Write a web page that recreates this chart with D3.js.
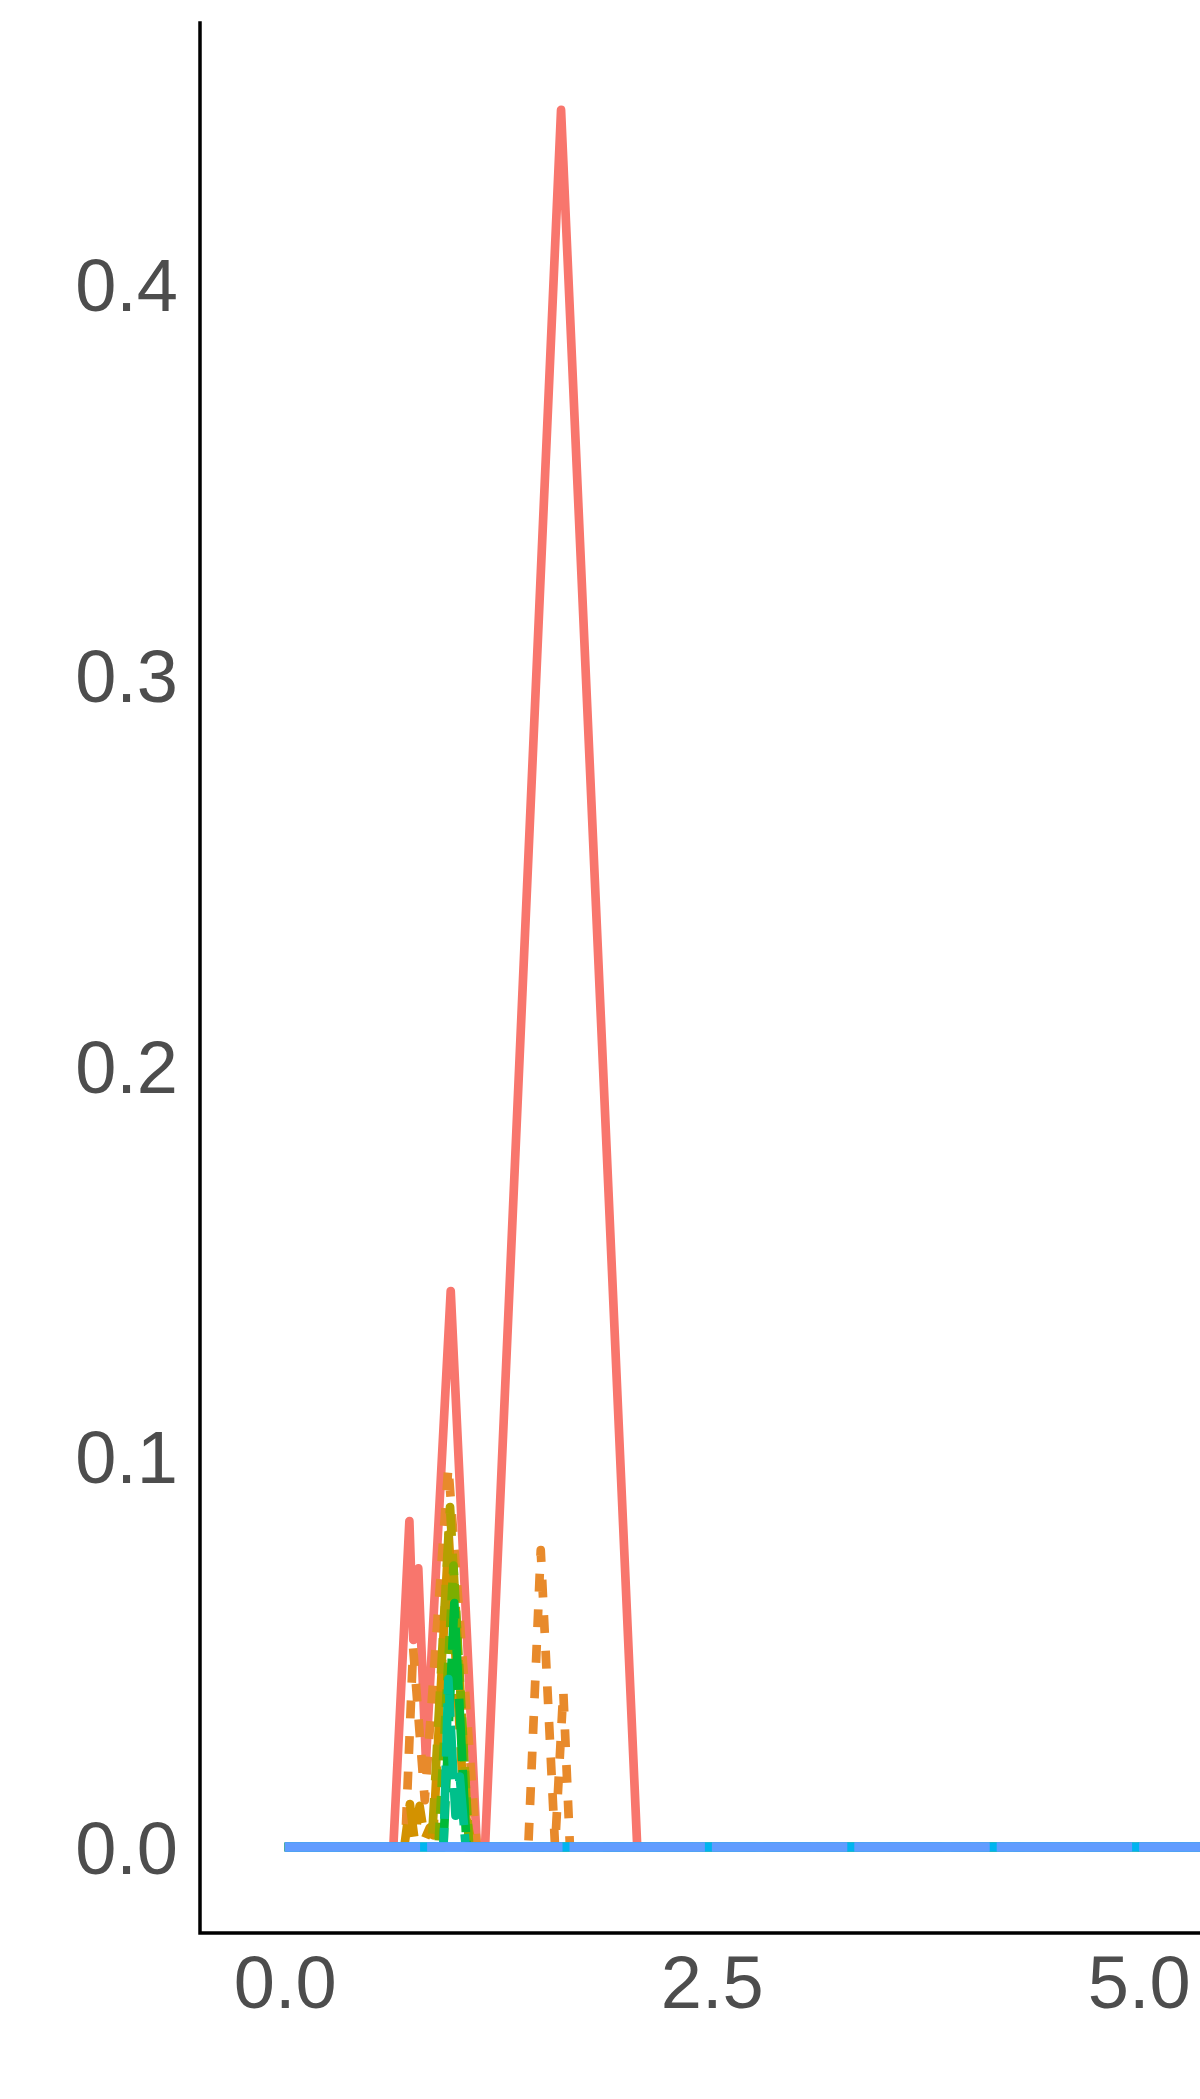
<!DOCTYPE html>
<html>
<head>
<meta charset="utf-8">
<script src="https://cdn.jsdelivr.net/npm/d3@7"></script>
<style>
	body { margin: 0; background: #fff; }
	svg { display: block; }
	.tick text { font-family: "Liberation Sans", Arial, sans-serif; fill: #4D4D4D; }
	.series { fill: none; stroke-linejoin: round; stroke-linecap: butt; }
</style>
</head>
<body>
<svg id="chart" width="1200" height="2099">
	<g id="lines"></g>
	<g id="x-axis"></g>
	<g id="y-axis"></g>
	<path id="frame"></path>
</svg>
<script>
// series, in drawing order
const seriesNames = ["s1", "s2", "s3", "s4", "s5", "s6", "s7", "s8", "s9"];

const s1X = [0, 0.636, 0.730, 0.753, 0.782, 0.827, 0.972, 1.125, 1.173, 1.618, 2.064, 10];
const s1Y = [0, 0, 0.0834, 0.053, 0.0713, 0.022, 0.1423, 0, 0, 0.4446, 0, 0];

const s2X = [0, 0.705, 0.752, 0.820, 0.958, 1.124, 1.426, 1.499, 1.583, 1.631, 1.670, 10];
const s2Y = [0, 0, 0.051, 0.012, 0.0973, 0, 0, 0.076, 0, 0.040, 0, 0];

const s3X = [0, 0.700, 0.733, 0.760, 0.790, 0.820, 0.850, 0.870, 0.960, 1.050, 1.100, 10];
const s3Y = [0, 0, 0.011, 0.002, 0.0105, 0.002, 0.005, 0.003, 0.080, 0.010, 0, 0];

const s4X = [0, 0.860, 0.968, 1.080, 10];
const s4Y = [0, 0, 0.087, 0, 0];

const s5X = [0, 0.900, 0.988, 1.080, 10];
const s5Y = [0, 0, 0.072, 0, 0];

const s6X = [0, 0.929, 0.993, 1.065, 10];
const s6Y = [0, 0, 0.0624, 0, 0];

const s7X = [0, 0.930, 0.958, 1.000, 1.025, 1.060, 10];
const s7Y = [0, 0, 0.043, 0.008, 0.018, 0, 0];

const s8X = [0, 10];
const s8Y = [0, 0];

const s9X = [0, 10];
const s9Y = [0, 0];

// only the ticks that fall inside the picture
const xTicks = [0, 2.5, 5];
const yTicks = [0, 0.1, 0.2, 0.3, 0.4];

const seriesColors = ["#F8766D", "#E88A2B", "#D39200", "#B5A000", "#7CAE00", "#00BA38", "#00C08B", "#00B4F0", "#619CFF"];
const seriesDashes = [null, "17.8 17.8", "35.6 17.8", "35.6 17.8", "17.8 8.9", "62.3 8.9", "53.4 8.9", null, "135.4 7"];
const seriesWidths = [8.7, 8.7, 8.7, 8.7, 8.7, 8.7, 8.7, 9.3, 9.3];

class Chart {
	constructor() {
		this.svg = d3.select("svg#chart");
		this.bounds = {
			minX: 200,
			maxX: 1200,
			minY: 23,
			maxY: 1933,
		};
		this.data = seriesNames.map((name, i) => {
			let xs = [s1X, s2X, s3X, s4X, s5X, s6X, s7X, s8X, s9X][i];
			let ys = [s1Y, s2Y, s3Y, s4Y, s5Y, s6Y, s7Y, s8Y, s9Y][i];
			return { name: name, points: xs.map((x, j) => ({ x: x, y: ys[j] })) };
		});

		this.updateScaleX();
		this.updateScaleY();
		this.updateAxisX();
		this.updateAxisY();
		this.updateFrame();
		this.updateLines();
	}

	/*
	 * the panel runs past the right edge, only 0 - 5 is in view
	 */
	updateScaleX() {
		this.scaleX = d3.scaleLinear().domain([0, 10]).range([284.7, 1992.7]);
	}

	updateScaleY() {
		this.scaleY = d3.scaleLinear().domain([0, 0.4]).range([1847, 284.2]);
	}

	updateAxisX() {
		let axisG = this.svg.select("g#x-axis")
			.attr("transform", `translate(0 ${this.bounds.maxY})`);
		let xAxis = d3.axisBottom(this.scaleX)
			.tickValues(xTicks)
			.tickFormat(d3.format(".1f"))
			.tickSize(0)
			.tickPadding(22);
		axisG.call(xAxis);
		axisG.select(".domain").remove();
		axisG.selectAll("text").attr("font-size", 74);
	}

	updateAxisY() {
		let axisG = this.svg.select("g#y-axis")
			.attr("transform", `translate(${this.bounds.minX} 0)`);
		let yAxis = d3.axisLeft(this.scaleY)
			.tickValues(yTicks)
			.tickFormat(d3.format(".1f"))
			.tickSize(0)
			.tickPadding(22);
		axisG.call(yAxis);
		axisG.select(".domain").remove();
		axisG.selectAll("text").attr("font-size", 74).attr("dy", "0.36em");
	}

	updateFrame() {
		let b = this.bounds;
		this.svg.select("path#frame")
			.attr("d", `M${b.minX},${b.minY}V${b.maxY}H${b.maxX + 10}`)
			.attr("fill", "none")
			.attr("stroke", "#000")
			.attr("stroke-width", 3.5)
			.attr("stroke-linecap", "square");
	}

	updateLines() {
		let line = d3.line()
			.x(d => this.scaleX(d.x))
			.y(d => this.scaleY(d.y));
		this.svg.select("g#lines")
			.selectAll("path")
			.data(this.data)
			.join("path")
			.classed("series", true)
			.attr("stroke", (d, i) => seriesColors[i])
			.attr("stroke-width", (d, i) => seriesWidths[i])
			.attr("stroke-dasharray", (d, i) => seriesDashes[i])
			.attr("d", d => line(d.points));
	}
}

new Chart();
</script>
</body>
</html>
